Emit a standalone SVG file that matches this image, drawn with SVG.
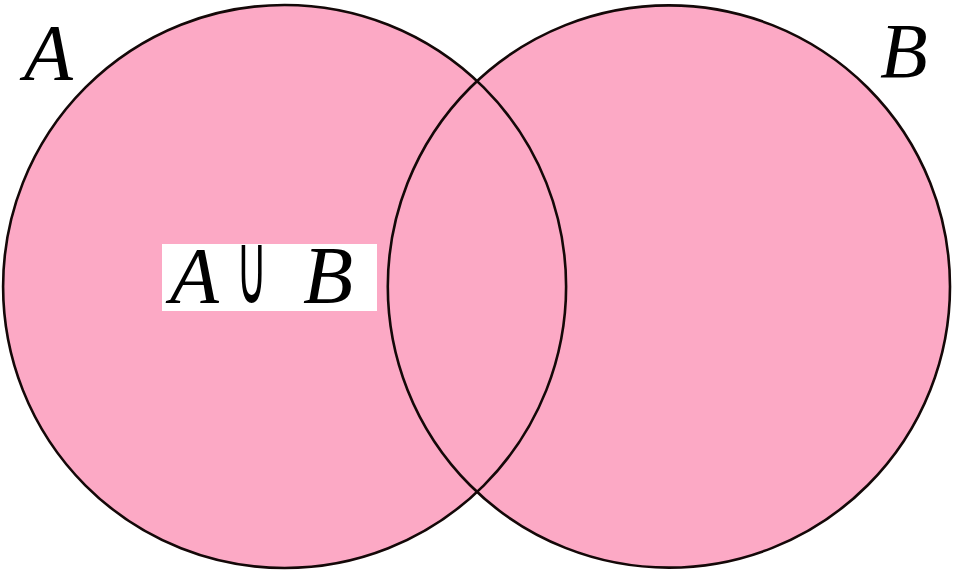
<svg xmlns="http://www.w3.org/2000/svg" width="955" height="573" viewBox="0 0 955 573">
<style>
.fill{fill:#fca9c5;stroke:none}
.edge{fill:none;stroke:#140808;stroke-width:2.6}
</style>
<rect width="955" height="573" fill="#fff"/>
<g id="setA">
<circle class="fill" cx="284.6" cy="286.5" r="281.5"/>
</g>
<g id="setB">
<circle class="fill" cx="668.9" cy="286.5" r="281.1"/>
</g>
<g id="outlines">
<circle class="edge" cx="284.6" cy="286.5" r="281.5"/>
<circle class="edge" cx="668.9" cy="286.5" r="281.1"/>
</g>
<g id="labels" font-family="Liberation Serif, Times New Roman, serif" font-style="italic" fill="#000">
<text x="24" y="80" font-size="80">A</text>
<text x="880" y="77" font-size="78">B</text>
</g>
<g id="union-label">
<rect x="162" y="244" width="215" height="67" fill="#fff"/>
<g font-family="Liberation Serif, Times New Roman, serif" font-style="italic" fill="#000">
<text x="170" y="303" font-size="80">A</text>
<text x="303" y="303" font-size="82">B</text>
</g>
<text x="0" y="0" font-size="100" text-anchor="middle" font-family="DejaVu Sans, sans-serif" fill="#000" transform="translate(251.5 303) scale(0.42 1)">∪</text>
</g>
</svg>
